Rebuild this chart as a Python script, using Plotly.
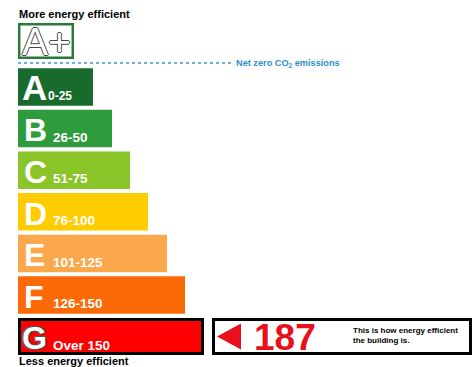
import plotly.graph_objects as go

# ---- data ----
letters = ["A", "B", "C", "D", "E", "F", "G"]
ranges = ["0-25", "26-50", "51-75", "76-100", "101-125", "126-150", "Over 150"]
bar_lengths = [75, 94, 112, 130, 149, 167, 186]
colors = ["#196a2d", "#2e9b3c", "#8ac428", "#ffcc00", "#faa84b", "#fc6a08", "#ff0000"]
current_band = "G"
current_rating = 187

W, H = 472, 367
x0 = 18
centers = [87 + i * 41.6 for i in range(len(letters))]
heights = [37.5] * len(letters)

fig = go.Figure()

# normal bars
idx = [i for i, l in enumerate(letters) if l != current_band]
fig.add_trace(go.Bar(
    orientation="h",
    y=[centers[i] for i in idx],
    x=[bar_lengths[i] for i in idx],
    base=x0,
    width=[heights[i] for i in idx],
    marker=dict(color=[colors[i] for i in idx], line=dict(width=0)),
    hoverinfo="skip",
))
# current band with black border
ci = letters.index(current_band)
fig.add_trace(go.Bar(
    orientation="h",
    y=[centers[ci]],
    x=[bar_lengths[ci] - 3],
    base=x0 + 1.5,
    width=[heights[ci] - 3.5],
    marker=dict(color=[colors[ci]], line=dict(width=3, color="#000000")),
    hoverinfo="skip",
))

ann = []
font_fam = "Liberation Sans, Arial, sans-serif"
outline = "1px 1px 0 #555, -1px -1px 0 #555, 1px -1px 0 #555, -1px 1px 0 #555"
for i, (l, r) in enumerate(zip(letters, ranges)):
    bottom = centers[i] + heights[i] / 2
    big = 35 if l == "A" else 32
    ann.append(dict(
        x=21 if l in ("A", "G") else 23, y=bottom + 2, text=l, showarrow=False,
        xanchor="left", yanchor="bottom", borderpad=0,
        font=dict(family=font_fam, size=big, color="white", weight="bold",
                  shadow=outline if l == current_band else "none"),
    ))
    ann.append(dict(
        x=47 if l == "A" else 52, y=bottom - 1.5, text=r, showarrow=False,
        xanchor="left", yanchor="bottom", borderpad=0,
        font=dict(family=font_fam, size=12 if l == "A" else 13.5, color="white", weight="bold"),
    ))

# A+ box
fig.add_shape(type="rect", x0=19.2, x1=72.8, y0=24.2, y1=57.8,
              line=dict(color="#2a7a3a", width=2.5), fillcolor="white")
ann.append(dict(
    x=46, y=41.5, text="A+", showarrow=False, xanchor="center", yanchor="middle",
    font=dict(family=font_fam, size=39, color="white",
              shadow="1px 0 0 #444, -1px 0 0 #444, 0 1px 0 #444, 0 -1px 0 #444"),
))

# dotted net zero line
fig.add_shape(type="line", x0=18, x1=234, y0=63, y1=63,
              line=dict(color="#3a9ad6", width=1.6, dash="dot"))
ann.append(dict(
    x=235, y=63.5, text="Net zero CO<sub>2</sub> emissions", showarrow=False,
    xanchor="left", yanchor="middle", borderpad=0,
    font=dict(family=font_fam, size=9.2, color="#2e8fd0", weight="bold"),
))

ann.append(dict(x=18, y=21, text="More energy efficient", showarrow=False,
                xanchor="left", yanchor="bottom", borderpad=0,
                font=dict(family=font_fam, size=11, color="black", weight="bold")))
ann.append(dict(x=18, y=361, text="Less energy efficient", showarrow=False,
                xanchor="left", yanchor="middle", borderpad=0,
                font=dict(family=font_fam, size=11, color="black", weight="bold")))

# indicator box
ic = centers[ci]
fig.add_shape(type="rect", x0=213.5, x1=470.5, y0=ic - 17, y1=ic + 17,
              line=dict(color="black", width=3), fillcolor="white")
fig.add_shape(type="path", path=f"M 217 {ic} L 241 {ic-13} L 241 {ic+13} Z",
              fillcolor="#e8101a", line=dict(width=0))
ann.append(dict(x=285, y=ic + 1, text=str(current_rating), showarrow=False,
                xanchor="center", yanchor="middle",
                font=dict(family=font_fam, size=37, color="#e8101a", weight="bold")))
ann.append(dict(x=351, y=ic - 1, text="This is how energy efficient<br>the building is.",
                showarrow=False, xanchor="left", yanchor="middle", align="left",
                font=dict(family=font_fam, size=8, color="black", weight="bold")))

fig.update_layout(
    width=W, height=H, margin=dict(l=0, r=0, t=0, b=0),
    paper_bgcolor="white", plot_bgcolor="white",
    showlegend=False, barmode="overlay", annotations=ann,
    xaxis=dict(range=[0, W], visible=False, fixedrange=True),
    yaxis=dict(range=[H, 0], visible=False, fixedrange=True),
)
fig.write_html("out.html")
